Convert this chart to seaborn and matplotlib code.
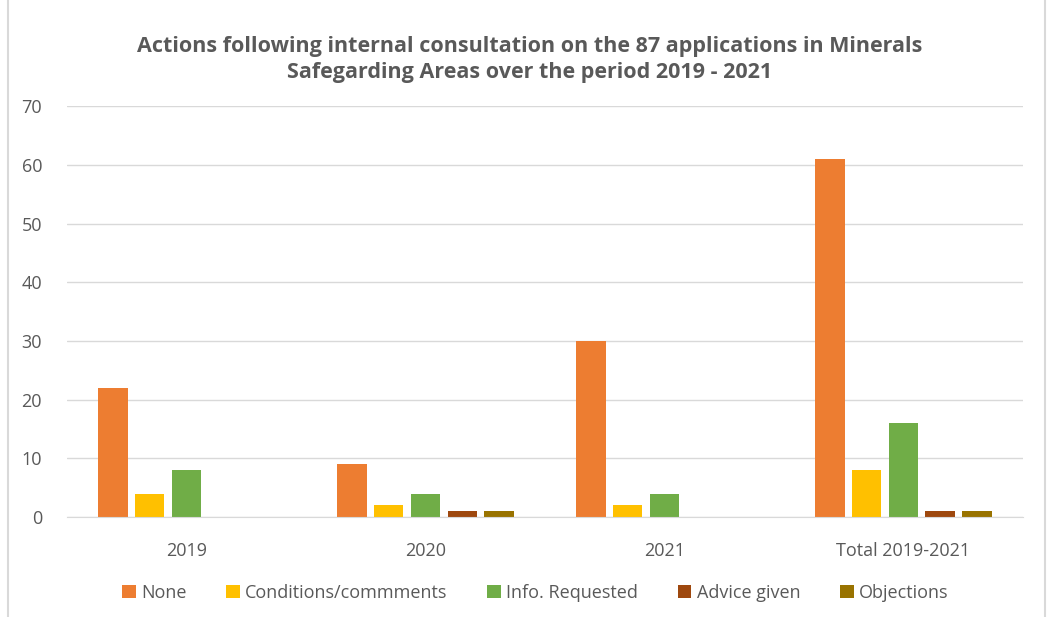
import matplotlib.pyplot as plt
import seaborn as sns
import pandas as pd

groups = ["2019", "2020", "2021", "Total 2019-2021"]
series = ["None", "Conditions/commments", "Info. Requested", "Advice given", "Objections"]
none_vals = [22, 9, 30, 61]
cond_vals = [4, 2, 2, 8]
info_vals = [8, 4, 4, 16]
advice_vals = [0, 1, 0, 1]
obj_vals = [0, 1, 0, 1]
colors = ["#ED7D31", "#FFC000", "#70AD47", "#9E480E", "#997300"]

rows = []
for s, vals in zip(series, [none_vals, cond_vals, info_vals, advice_vals, obj_vals]):
    for g, v in zip(groups, vals):
        rows.append({"Group": g, "Series": s, "Value": v})
df = pd.DataFrame(rows)

sns.set_style("white")
plt.rcParams["font.family"] = ["Open Sans", "DejaVu Sans"]
txt = "#595959"

fig = plt.figure(figsize=(10.48, 6.17), dpi=100)
ax = fig.add_axes([0.064, 0.162, 0.912, 0.666])
sns.barplot(data=df, x="Group", y="Value", hue="Series", palette=colors,
            width=0.77, gap=0.2, ax=ax, legend=True, saturation=1, linewidth=0)

ax.set_ylim(0, 70)
ax.set_yticks(range(0, 71, 10))
ax.yaxis.grid(True, color="#D9D9D9", linewidth=1)
ax.set_axisbelow(True)
for sp in ["top", "right", "left"]:
    ax.spines[sp].set_visible(False)
ax.spines["bottom"].set_color("#D9D9D9")
ax.tick_params(axis="both", length=0, labelsize=13, colors=txt)
ax.tick_params(axis="y", pad=18)
ax.tick_params(axis="x", pad=18)
ax.set_xlabel("")
ax.set_ylabel("")

fig.text(0.505, 0.904,
         "Actions following internal consultation on the 87 applications in Minerals\n"
         "Safegarding Areas over the period 2019 - 2021",
         ha="center", va="center", fontsize=15.5, fontweight="bold", color=txt,
         linespacing=1.3)

ax.legend(loc="center", bbox_to_anchor=(0.49, -0.185), ncol=5, frameon=False,
          fontsize=13, handlelength=0.75, handleheight=0.75, handletextpad=0.3,
          columnspacing=2.2, labelcolor=txt)

fig.patches.append(plt.Rectangle((0.0076, -0.01), 0.99, 1.02, transform=fig.transFigure,
                                 fill=False, edgecolor="#D9D9D9", linewidth=1.5))

plt.savefig("out.png")
